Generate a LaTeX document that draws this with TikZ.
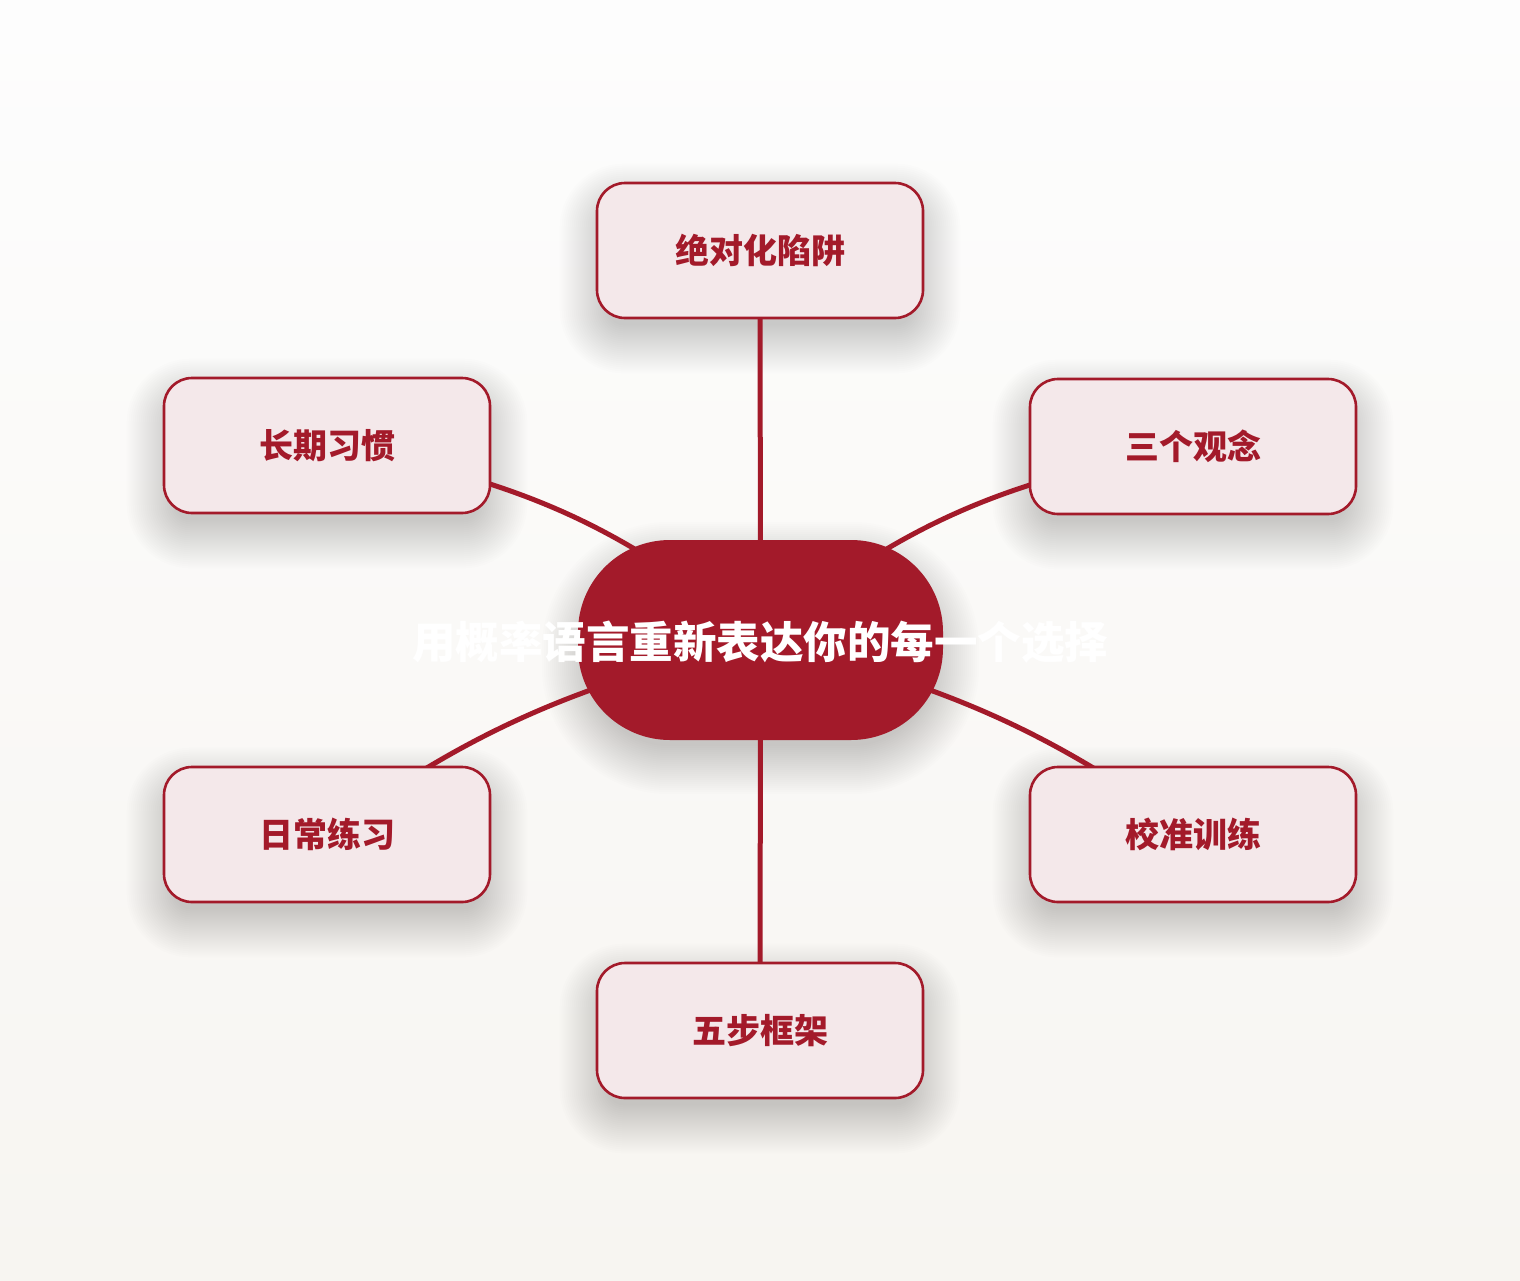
\documentclass[tikz,border=0pt]{standalone}
\usepackage{fontspec}
\newfontfamily\cjk{Noto Sans CJK SC}
\usetikzlibrary{backgrounds,calc}
\definecolor{brand}{HTML}{A31A2A}
\definecolor{leaf}{HTML}{F4E8EA}
\definecolor{bgtop}{HTML}{FDFDFD}
\definecolor{bgbot}{HTML}{F7F5F1}
\begin{document}
\begin{tikzpicture}[x=1pt,y=-1pt,
  leafbox/.style={draw=brand,line width=2.6pt,fill=leaf,rounded corners=28pt,
    minimum width=326pt,minimum height=135pt,inner sep=0pt,
    text=brand,font=\cjk\bfseries\fontsize{34}{40}\selectfont},
  rootbox/.style={fill=brand,draw=none,rounded corners=92pt,
    minimum width=365pt,minimum height=200pt,inner sep=0pt},
  roottext/.style={text=white,inner sep=0pt,font=\cjk\bfseries\fontsize{43.5}{50}\selectfont},
  shadelayer/.style={fill=black,opacity=0.0068},
  link/.style={draw=brand,line width=5pt,line cap=round}]
\useasboundingbox (0,0) rectangle (1520,1280);
\node[rootbox] (c) at (760.5,640) {};
\node[roottext] (ct) at (760,642) {用概率语言重新表达你的每一个选择};
\node[leafbox] (t) at (760,250.5) {绝对化陷阱};
\node[leafbox] (lu) at (327,445.5) {长期习惯};
\node[leafbox] (ru) at (1193,446.5) {三个观念};
\node[leafbox] (ll) at (327,834.5) {日常练习};
\node[leafbox] (rl) at (1193,834.5) {校准训练};
\node[leafbox] (b) at (760,1030.5) {五步框架};
\begin{scope}[on background layer]
\shade[top color=bgtop,bottom color=bgbot] (0,0) rectangle (1520,1280);
\foreach \n in {t,lu,ru,ll,rl,b}{
  \foreach \e in {-12,-10,...,36}{
    \fill[shadelayer,rounded corners={28pt+\e pt}]
      ($(\n.north west)+(-\e,-\e+18)$) rectangle ($(\n.south east)+(\e,\e+18)$);
  }
}
\foreach \e in {-12,-10,...,36}{
  \fill[shadelayer,rounded corners={92pt+\e pt}]
    ($(c.north west)+(-\e,-\e+18)$) rectangle ($(c.south east)+(\e,\e+18)$);
}
\draw[link] (c.center) -- (t.center);
\draw[link] (c.center) -- (b.center);
\draw[link] (c.center) to[out=140,in=-10] (lu.center);
\draw[link] (c.center) to[out=40,in=190] (ru.center);
\draw[link] (c.center) to[out=194,in=36] (ll.center);
\draw[link] (c.center) to[out=-14,in=144] (rl.center);
\end{scope}
\end{tikzpicture}
\end{document}
